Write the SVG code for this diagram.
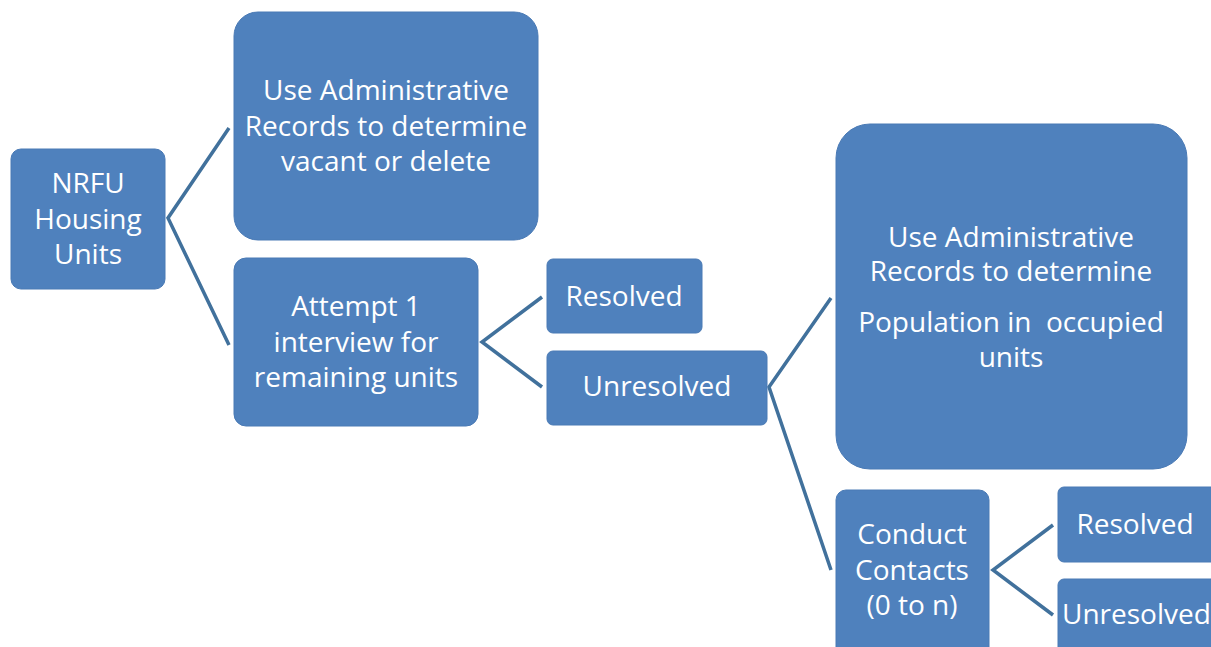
<svg xmlns="http://www.w3.org/2000/svg" width="1211" height="647" viewBox="0 0 1211 647">
<style>
.box{fill:#4F81BD;stroke:#4A7AB5;stroke-width:1}
.t{font-family:"Open Sans","Liberation Sans",Arial,sans-serif;font-size:28px;fill:#FFFFFF;text-anchor:middle}
.c{fill:none;stroke:#41719C;stroke-width:3.5;stroke-linejoin:miter}
</style>
<rect width="1211" height="647" fill="#FFFFFF"/>
<g id="connectors">
<polyline class="c" points="229,128 168,218 229,345"/>
<polyline class="c" points="542,297 482,342 542,387"/>
<polyline class="c" points="831,298 769,387 831,570"/>
<polyline class="c" points="1053,525 993,570 1053,615"/>
</g>
<g id="nrfu">
<rect class="box" x="11" y="149" width="154" height="140" rx="10"/>
<text class="t" x="88" y="193">NRFU</text>
<text class="t" x="88" y="229">Housing</text>
<text class="t" x="88" y="264">Units</text>
</g>
<g id="admin1">
<rect class="box" x="234" y="12" width="304" height="228" rx="24"/>
<text class="t" x="386" y="100">Use Administrative</text>
<text class="t" x="386" y="136">Records to determine</text>
<text class="t" x="386" y="171">vacant or delete</text>
</g>
<g id="attempt">
<rect class="box" x="234" y="258" width="244" height="168" rx="12"/>
<text class="t" x="356" y="316">Attempt 1</text>
<text class="t" x="356" y="352">interview for</text>
<text class="t" x="356" y="387">remaining units</text>
</g>
<g id="resolved1">
<rect class="box" x="547" y="259" width="155" height="74" rx="6"/>
<text class="t" x="624" y="306">Resolved</text>
</g>
<g id="unresolved1">
<rect class="box" x="547" y="351" width="220" height="74" rx="6"/>
<text class="t" x="657" y="396">Unresolved</text>
</g>
<g id="admin2">
<rect class="box" x="836" y="124" width="351" height="345" rx="34"/>
<text class="t" x="1011" y="247">Use Administrative</text>
<text class="t" x="1011" y="281">Records to determine</text>
<text class="t" x="1011" y="332" style="white-space:pre">Population in  occupied</text>
<text class="t" x="1011" y="367">units</text>
</g>
<g id="conduct">
<rect class="box" x="836" y="490" width="153" height="170" rx="10"/>
<text class="t" x="912" y="544">Conduct</text>
<text class="t" x="912" y="580">Contacts</text>
<text class="t" x="912" y="615">(0 to n)</text>
</g>
<g id="resolved2">
<rect class="box" x="1058" y="487" width="160" height="75" rx="6"/>
<text class="t" x="1135" y="534">Resolved</text>
</g>
<g id="unresolved2">
<rect class="box" x="1058" y="579" width="160" height="80" rx="6"/>
<text class="t" x="1062" y="624" style="text-anchor:start">Unresolved</text>
</g>
</svg>
